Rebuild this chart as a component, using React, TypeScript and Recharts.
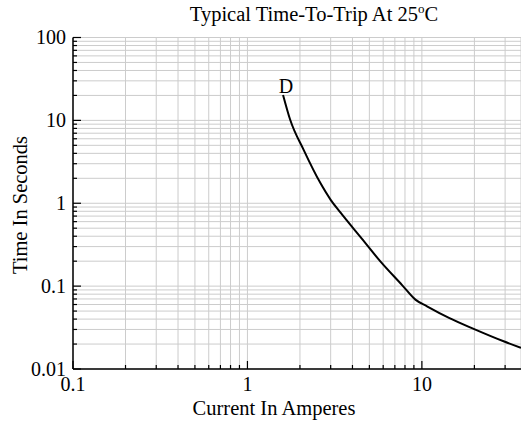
import React from 'react';
import { LineChart, Line, XAxis, YAxis, CartesianGrid, ReferenceDot } from 'recharts';

const currentAmps = [1.6, 1.76, 2.1, 2.62, 3.0, 3.41, 4.44, 5.78, 7.7, 9.18, 10.7, 14.3, 19.8, 29.4, 37];
const tripSeconds = [20.3, 10.1, 4.41, 1.75, 1.1, 0.774, 0.392, 0.199, 0.103, 0.0687, 0.0571, 0.0414, 0.0305, 0.0216, 0.018];

const xTicks = [0.1, 0.2, 0.3, 0.4, 0.5, 0.6, 0.7, 0.8, 0.9, 1, 2, 3, 4, 5, 6, 7, 8, 9, 10, 20, 30];
const xMajor = [0.1, 1, 10];
const xMajorLabels = ['0.1', '1', '10'];

const yTicks = [
  0.01, 0.02, 0.03, 0.04, 0.05, 0.06, 0.07, 0.08, 0.09,
  0.1, 0.2, 0.3, 0.4, 0.5, 0.6, 0.7, 0.8, 0.9,
  1, 2, 3, 4, 5, 6, 7, 8, 9,
  10, 20, 30, 40, 50, 60, 70, 80, 90,
  100,
];
const yMajor = [0.01, 0.1, 1, 10, 100];
const yMajorLabels = ['0.01', '0.1', '1', '10', '100'];

const seriesLabel = 'D';
const title = 'Typical Time-To-Trip At 25';
const xTitle = 'Current In Amperes';
const yTitle = 'Time In Seconds';

const data = currentAmps.map((c, i) => ({ current: c, time: tripSeconds[i] }));

const FONT = '"Liberation Serif", "Times New Roman", serif';
const FS = 20;
const FS_T = 20.5;

const XTick = (props: any) => {
  const { x, y, payload } = props;
  const idx = xMajor.indexOf(payload.value);
  const major = idx >= 0;
  return (
    <g>
      <line x1={x} y1={y} x2={x} y2={y - (major ? 8 : 4)} stroke="#000" strokeWidth={1.2} />
      {major && (
        <text x={x} y={y + 22} textAnchor="middle" fontFamily={FONT} fontSize={FS} fill="#000">
          {xMajorLabels[idx]}
        </text>
      )}
    </g>
  );
};

const YTick = (props: any) => {
  const { x, y, payload } = props;
  const idx = yMajor.indexOf(payload.value);
  const major = idx >= 0;
  return (
    <g>
      <line x1={x} y1={y} x2={x + (major ? 8 : 4)} y2={y} stroke="#000" strokeWidth={1.2} />
      {major && (
        <text x={x - 7} y={y + 6.5} textAnchor="end" fontFamily={FONT} fontSize={FS} fill="#000">
          {yMajorLabels[idx]}
        </text>
      )}
    </g>
  );
};

const DLabel = (props: any) => {
  const { viewBox } = props;
  const cx = viewBox ? viewBox.x + (viewBox.width || 0) / 2 : 0;
  const cy = viewBox ? viewBox.y + (viewBox.height || 0) / 2 : 0;
  return (
    <text x={cx + 3} y={cy - 2} textAnchor="middle" fontFamily={FONT} fontSize={FS} fill="#000">
      {seriesLabel}
    </text>
  );
};

export default function App() {
  return (
    <div style={{ position: 'absolute', left: 0, top: 0, width: 521, height: 421, overflow: 'hidden', background: '#fff' }}>
      <LineChart width={521} height={421} data={data} margin={{ top: 37.5, right: 0, bottom: 0, left: 0 }}>
        <CartesianGrid stroke="#cccccc" strokeWidth={1} />
        <XAxis
          dataKey="current"
          type="number"
          scale="log"
          domain={[0.1, 37]}
          allowDataOverflow
          ticks={xTicks}
          interval={0}
          tickSize={0}
          tickMargin={0}
          height={52}
          axisLine={{ stroke: '#000', strokeWidth: 1.5 }}
          tickLine={false}
          tick={<XTick />}
        />
        <YAxis
          dataKey="time"
          type="number"
          scale="log"
          domain={[0.01, 100]}
          allowDataOverflow
          ticks={yTicks}
          interval={0}
          tickSize={0}
          tickMargin={0}
          width={73}
          axisLine={{ stroke: '#000', strokeWidth: 1.5 }}
          tickLine={false}
          tick={<YTick />}
        />
        <Line
          dataKey="time"
          type="monotone"
          stroke="#000"
          strokeWidth={2}
          dot={false}
          isAnimationActive={false}
        />
        <ReferenceDot x={currentAmps[0]} y={tripSeconds[0]} r={0} stroke="none" fill="none" label={<DLabel />} />
      </LineChart>
      <svg width={521} height={421} style={{ position: 'absolute', left: 0, top: 0, pointerEvents: 'none' }}>
        <text x={314} y={21} textAnchor="middle" fontFamily={FONT} fontSize={FS_T} fill="#000">
          {title}
          <tspan fontSize={13} dy={-8}>o</tspan>
          <tspan dy={8}>C</tspan>
        </text>
        <text x={274} y={415} textAnchor="middle" fontFamily={FONT} fontSize={FS_T} fill="#000">
          {xTitle}
        </text>
        <text x={27} y={205} textAnchor="middle" fontFamily={FONT} fontSize={FS_T} fill="#000" transform="rotate(-90, 27, 205)">
          {yTitle}
        </text>
      </svg>
    </div>
  );
}
